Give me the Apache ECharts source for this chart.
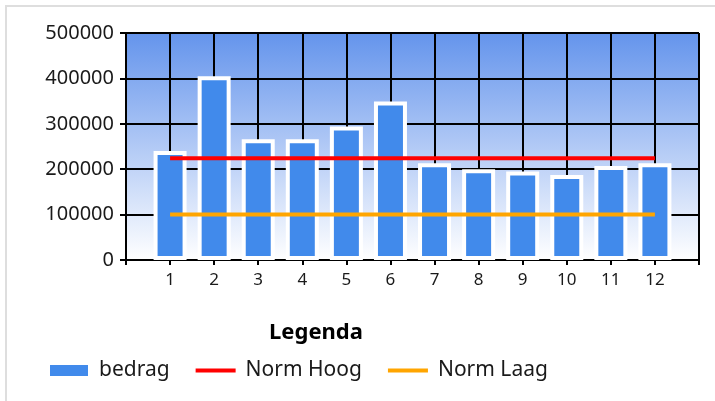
<!DOCTYPE html>
<html>
<head>
<meta charset="utf-8">
<script src="https://cdn.jsdelivr.net/npm/echarts@6/dist/echarts.min.js"></script>
<style>
  html, body { margin: 0; padding: 0; background: #fff; }
  #frame { position: absolute; left: 5px; top: 5px; width: 715px; height: 401px;
           border-top: 2px solid #dedede; border-left: 2px solid #dedede; }
  #chart { position: absolute; left: 0; top: 0; width: 715px; height: 401px; }
</style>
</head>
<body>
<div id="frame"></div>
<div id="chart"></div>
<script>
// data
const months = [1, 2, 3, 4, 5, 6, 7, 8, 9, 10, 11, 12];
const bedrag = [240000, 405000, 266000, 266000, 294000, 349000, 213000, 200000, 195000, 187000, 207000, 213000];
const normHoog = [224000, 224000, 224000, 224000, 224000, 224000, 224000, 224000, 224000, 224000, 224000, 224000];
const normLaag = [100000, 100000, 100000, 100000, 100000, 100000, 100000, 100000, 100000, 100000, 100000, 100000];
const yTicks = [0, 100000, 200000, 300000, 400000, 500000];

const chart = echarts.init(document.getElementById("chart"));

const pair = (arr) => months.map((m, i) => [m, arr[i]]);
// legend icon: thin line, with an invisible sliver to keep the 40x13 box
const lineIcon = "path://M0,4.5 L40,4.5 L40,8.5 L0,8.5 Z M0,0 L0.01,0 L0.01,13 L0,13 Z";

const option = {
  animation: false,
  title: {
    text: "Legenda",
    left: 311,
    top: 317,
    textAlign: "center",
    textStyle: { fontFamily: "Noto Sans", fontSize: 22, fontWeight: "bold", color: "#000" },
  },
  legend: {
    left: 48,
    top: 360,
    padding: 0,
    itemWidth: 40,
    itemHeight: 13,
    itemGap: 26,
    textStyle: { fontFamily: "Noto Sans", fontSize: 21, color: "#1a1a1a", padding: [0, 0, 0, 5] },
    data: [
      { name: "bedrag", icon: "rect" },
      { name: "Norm Hoog", icon: lineIcon },
      { name: "Norm Laag", icon: lineIcon },
    ],
  },
  grid: {
    left: 126,
    right: 16,
    top: 33,
    bottom: 141,
    show: true,
    borderWidth: 0,
    backgroundColor: new echarts.graphic.LinearGradient(0, 0, 0, 1, [
      { offset: 0, color: "#6494EC" },
      { offset: 1, color: "#FFFFFF" },
    ]),
  },
  xAxis: {
    type: "value",
    min: 0,
    max: 13,
    interval: 1,
    axisLine: { lineStyle: { color: "#000", width: 2 } },
    axisTick: { length: 5, lineStyle: { color: "#000", width: 2 } },
    axisLabel: {
      margin: 12,
      fontFamily: "Noto Sans",
      fontSize: 17,
      color: "#1a1a1a",
      formatter: (v) => (months.indexOf(v) >= 0 ? String(v) : ""),
    },
    splitLine: { show: true, lineStyle: { color: "#000", width: 2 } },
  },
  yAxis: {
    type: "value",
    min: yTicks[0],
    max: yTicks[yTicks.length - 1],
    interval: 100000,
    axisLine: { show: true, lineStyle: { color: "#000", width: 2 } },
    axisTick: { show: true, length: 6, lineStyle: { color: "#000", width: 2 } },
    axisLabel: {
      margin: 12,
      fontFamily: "Noto Sans",
      fontSize: 20,
      color: "#1a1a1a",
      formatter: (v) => String(v),
    },
    splitLine: { show: true, lineStyle: { color: "#000", width: 2 } },
  },
  series: [
    {
      name: "bedrag",
      type: "bar",
      barWidth: 33,
      data: pair(bedrag),
      itemStyle: { color: "#418AEB", borderColor: "#fff", borderWidth: 4 },
      z: 2,
    },
    {
      name: "Norm Hoog",
      type: "line",
      data: pair(normHoog),
      symbol: "none",
      lineStyle: { color: "#FF0000", width: 4 },
      itemStyle: { color: "#FF0000" },
      z: 3,
    },
    {
      name: "Norm Laag",
      type: "line",
      data: pair(normLaag),
      symbol: "none",
      lineStyle: { color: "#FFA500", width: 4 },
      itemStyle: { color: "#FFA500" },
      z: 3,
    },
  ],
};

chart.setOption(option);
</script>
</body>
</html>
